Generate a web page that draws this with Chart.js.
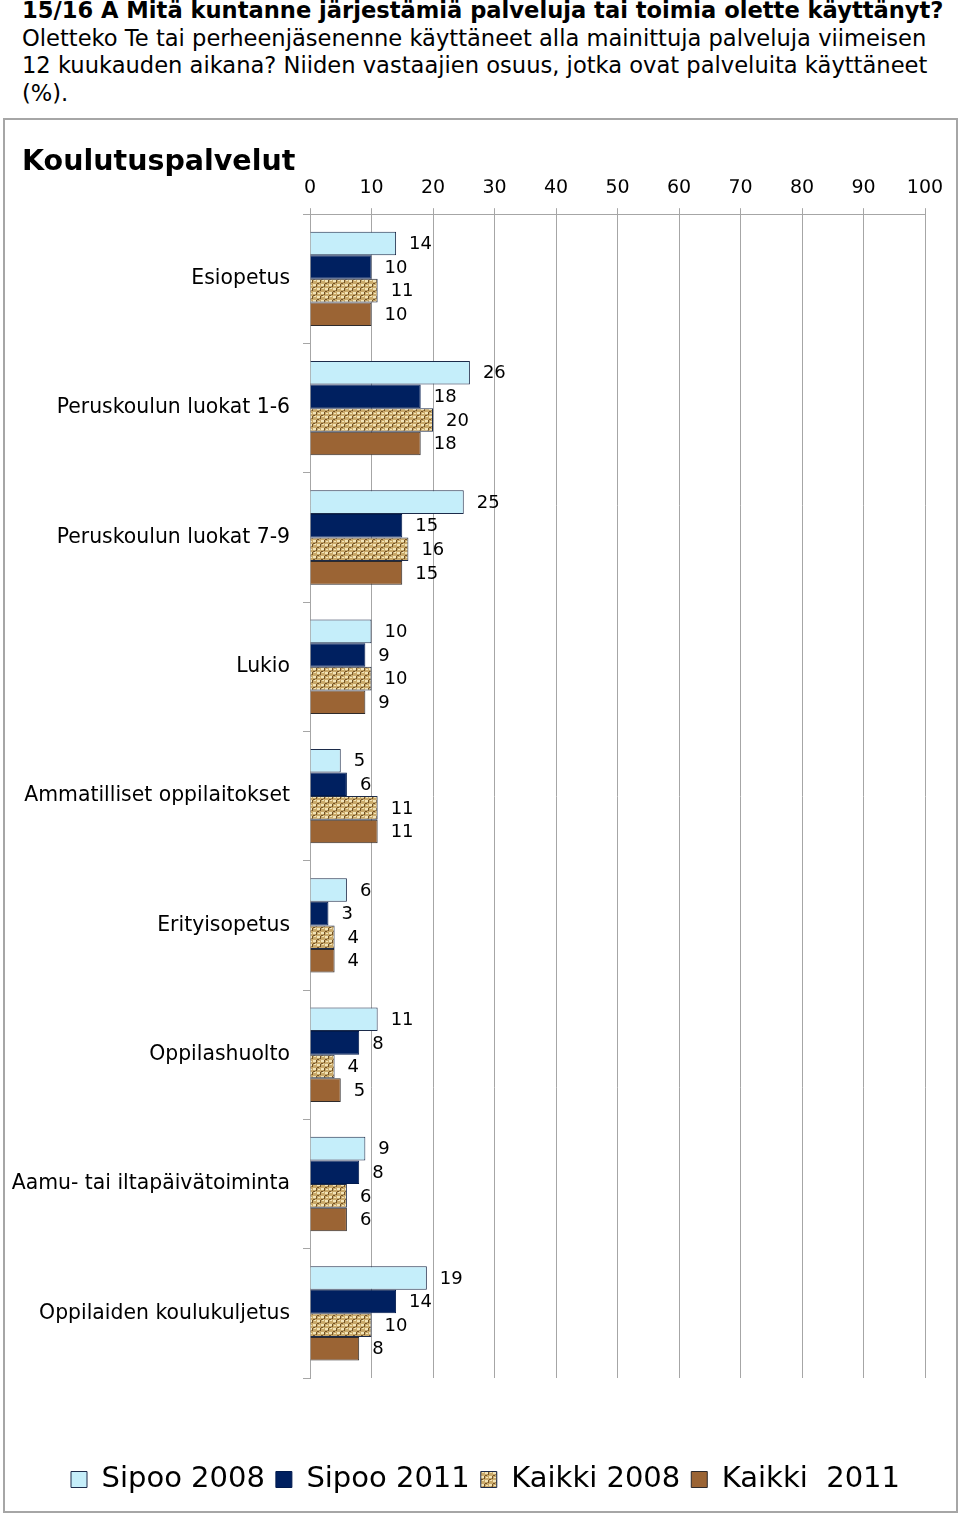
<!DOCTYPE html>
<html>
<head>
<meta charset="utf-8">
<script src="https://cdn.jsdelivr.net/npm/chart.js@4.4.1/dist/chart.umd.min.js"></script>
<style>
  html, body { margin: 0; padding: 0; background: #fff; }
  body { width: 960px; height: 1516px; position: relative; overflow: hidden; }
  #head { position: absolute; left: 22px; top: -3px; width: 940px; font-family: "DejaVu Sans", Verdana, sans-serif; font-size: 22.6px; line-height: 27.5px; color: #000; white-space: nowrap; }
  #head b { font-weight: bold; }
  #box { position: absolute; left: 3px; top: 118px; width: 955px; height: 1395px; box-sizing: border-box; border: 2px solid #a6a6a6; }
  #c { display: block; }
</style>
</head>
<body>
<div id="head">
  <div><b>15/16 A Mitä kuntanne järjestämiä palveluja tai toimia olette käyttänyt?</b></div>
  <div>Oletteko Te tai perheenjäsenenne käyttäneet alla mainittuja palveluja viimeisen</div>
  <div>12 kuukauden aikana? Niiden vastaajien osuus, jotka ovat palveluita käyttäneet</div>
  <div>(%).</div>
</div>
<div id="box"><canvas id="c" width="951" height="1391"></canvas></div>
<script>
const categories = [
  "Esiopetus",
  "Peruskoulun luokat 1-6",
  "Peruskoulun luokat 7-9",
  "Lukio",
  "Ammatilliset oppilaitokset",
  "Erityisopetus",
  "Oppilashuolto",
  "Aamu- tai iltapäivätoiminta",
  "Oppilaiden koulukuljetus"
];
const sipoo2008 = [14, 26, 25, 10, 5, 6, 11, 9, 19];
const sipoo2011 = [10, 18, 15, 9, 6, 3, 8, 8, 14];
const kaikki2008 = [11, 20, 16, 10, 11, 4, 4, 6, 10];
const kaikki2011 = [10, 18, 15, 9, 11, 4, 5, 6, 8];
const seriesNames = ["Sipoo 2008", "Sipoo 2011", "Kaikki 2008", "Kaikki  2011"];
const xTicks = [0, 10, 20, 30, 40, 50, 60, 70, 80, 90, 100];
const chartTitle = "Koulutuspalvelut";

Chart.defaults.font.family = '"DejaVu Sans", Verdana, sans-serif';
Chart.defaults.color = '#000';

function makeWeave() {
  const c = document.createElement('canvas');
  c.width = 8; c.height = 8;
  const g = c.getContext('2d');
  g.fillStyle = '#c9a96a'; g.fillRect(0, 0, 8, 8);
  g.fillStyle = '#f2e4b8'; g.fillRect(0, 0, 3, 2); g.fillRect(4, 4, 3, 2); g.fillRect(5, 0, 2, 1); g.fillRect(1, 5, 2, 1);
  g.fillStyle = '#735327'; g.fillRect(3, 0, 1, 3); g.fillRect(7, 4, 1, 3); g.fillRect(0, 3, 2, 1); g.fillRect(4, 7, 2, 1);
  g.fillStyle = '#a88a52'; g.fillRect(2, 2, 1, 1); g.fillRect(6, 6, 1, 1);
  return g.createPattern(c, 'repeat');
}
const weave = makeWeave();

const valueLabels = {
  id: 'valueLabels',
  afterDatasetsDraw(chart) {
    const ctx = chart.ctx;
    ctx.save();
    ctx.font = '18px "DejaVu Sans", Verdana, sans-serif';
    ctx.fillStyle = '#000';
    ctx.textAlign = 'left';
    ctx.textBaseline = 'middle';
    chart.data.datasets.forEach((ds, i) => {
      const meta = chart.getDatasetMeta(i);
      if (meta.hidden) return;
      meta.data.forEach((bar, j) => {
        ctx.fillText(String(ds.data[j]), bar.x + 13, bar.y + 1);
      });
    });
    ctx.restore();
  }
};

// indent the chart title and nudge the legend to match the reference framing
const boxNudge = {
  id: 'boxNudge',
  afterLayout(chart) {
    if (chart.titleBlock) { chart.titleBlock.left = 17; }
    if (chart.legend) { chart.legend.left += 5; chart.legend.right += 5; }
  }
};

const border = '#1c2b4a';
new Chart(document.getElementById('c'), {
  type: 'bar',
  data: {
    labels: categories,
    datasets: [
      { label: seriesNames[0], data: sipoo2008, backgroundColor: '#c5eefa', borderColor: border, borderWidth: 1 },
      { label: seriesNames[1], data: sipoo2011, backgroundColor: '#002060', borderColor: '#001a4d', borderWidth: 1 },
      { label: seriesNames[2], data: kaikki2008, backgroundColor: weave, borderColor: border, borderWidth: 1 },
      { label: seriesNames[3], data: kaikki2011, backgroundColor: '#9b6434', borderColor: '#2e2a2a', borderWidth: 1 }
    ]
  },
  options: {
    indexAxis: 'y',
    responsive: false,
    animation: false,
    categoryPercentage: 0.73,
    barPercentage: 1.0,
    layout: { padding: { left: 0, right: 0, top: 0, bottom: 7 } },
    scales: {
      x: {
        position: 'top',
        min: 0, max: 100,
        afterBuildTicks(s) { s.ticks = xTicks.map(v => ({ value: v })); },
        afterFit(s) { s.height = 35; },
        ticks: { font: { size: 19 }, color: '#000', padding: 9 },
        grid: { color: '#a6a6a6', lineWidth: 1, tickLength: 6 },
        border: { color: '#a6a6a6' }
      },
      xb: {
        position: 'bottom', type: 'linear', min: 0, max: 100,
        ticks: { display: false }, grid: { display: false }, border: { display: false },
        afterFit(s) { s.height = 76; }
      },
      y: {
        afterFit(s) { s.width = 305; },
        ticks: { font: { size: 20.4 }, color: '#000', padding: 13 },
        grid: { drawOnChartArea: false, drawTicks: true, tickLength: 7, color: '#a6a6a6' },
        border: { color: '#a6a6a6' }
      },
      yr: {
        type: 'category', position: 'right',
        ticks: { display: false }, grid: { display: false }, border: { display: false },
        afterFit(s) { s.width = 31; }
      }
    },
    plugins: {
      title: {
        display: true, text: chartTitle, align: 'start', color: '#000',
        font: { size: 28.5, weight: 'bold' }, padding: { top: 25, bottom: 0 }
      },
      legend: {
        position: 'bottom',
        labels: { boxWidth: 16, boxHeight: 16, font: { size: 29 }, color: '#000', padding: 11 }
      },
      tooltip: { enabled: false }
    }
  },
  plugins: [valueLabels, boxNudge]
});
</script>
</body>
</html>
